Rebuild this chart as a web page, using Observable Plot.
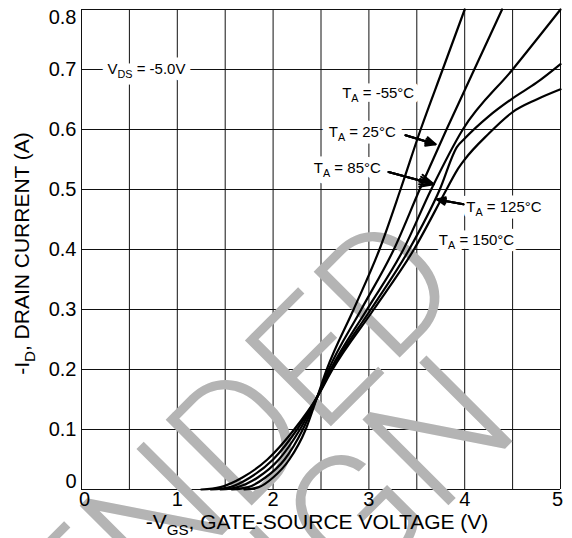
<!DOCTYPE html>
<html><head><meta charset="utf-8">
<script src="https://cdn.jsdelivr.net/npm/d3@7"></script>
<script src="https://cdn.jsdelivr.net/npm/@observablehq/plot@0.6"></script>
<style>
html,body{margin:0;padding:0;background:#fff;}
#chart svg{display:block;overflow:hidden;}
</style></head><body><div id="chart"></div>
<script>
// ---- data ----
const xGrid = [0,0.5,1,1.5,2,2.5,3,3.5,4,4.5,5];
const xTicks = [0,1,2,3,4,5];
const yTicks = [0,0.1,0.2,0.3,0.4,0.5,0.6,0.7,0.8];

const temps = ["-55","25","85","125","150"];
const vgsM55 = [1.70,1.85,2.00,2.17,2.34,2.46,2.56,2.84,3.11,3.33,3.54,3.77,4.00];
const idM55  = [0,0.004,0.02,0.05,0.10,0.154,0.20,0.30,0.40,0.50,0.60,0.70,0.80];
const vgs25  = [1.57,1.74,1.92,2.12,2.31,2.46,2.58,2.92,3.26,3.53,3.81,4.10,4.39];
const id25   = [0,0.004,0.02,0.05,0.10,0.154,0.20,0.30,0.40,0.50,0.60,0.70,0.80];
const vgs85  = [1.45,1.63,1.84,2.06,2.28,2.46,2.60,2.98,3.36,3.65,3.98,4.50,5.00];
const id85   = [0,0.004,0.02,0.05,0.10,0.154,0.20,0.30,0.40,0.50,0.60,0.70,0.80];
const vgs125 = [1.35,1.55,1.76,2.00,2.25,2.46,2.61,3.02,3.42,3.74,3.92,4.00,4.25,4.50,4.75,5.00];
const id125  = [0,0.004,0.02,0.05,0.10,0.154,0.20,0.30,0.40,0.50,0.571,0.585,0.622,0.652,0.678,0.709];
const vgs150 = [1.25,1.45,1.68,1.94,2.22,2.46,2.62,3.05,3.47,3.81,3.92,4.00,4.25,4.50,4.75,5.00];
const id150  = [0,0.004,0.02,0.05,0.10,0.154,0.20,0.30,0.40,0.50,0.532,0.55,0.593,0.629,0.65,0.667];

const labelText = ["V_{DS} = -5.0V","T_{A} = -55°C","T_{A} = 25°C","T_{A} = 85°C","T_{A} = 125°C","T_{A} = 150°C"];
const labelX = [0.271,2.721,2.581,2.425,4.016,3.730];
const labelY = [0.700,0.660,0.596,0.535,0.471,0.415];

const arrowX1 = [3.382,3.205,3.987];
const arrowY1 = [0.5905,0.5293,0.4755];
const arrowX2 = [3.695,3.677,3.713];
const arrowY2 = [0.5755,0.5088,0.4833];

const xTitle = "-V_{GS}, GATE-SOURCE VOLTAGE (V)";
const yTitle = "-I_{D}, DRAIN CURRENT (A)";

const wmText = ["NOT RECOMMENDED","FOR NEW DESIGN"];
const wmX = [4.034,4.614];
const wmY = [0.3338,0.0988];

// ---- tables ----
const series = [[vgsM55,idM55],[vgs25,id25],[vgs85,id85],[vgs125,id125],[vgs150,id150]];
const curves = series.flatMap(([v,i],k)=>v.map((x,j)=>({temp:temps[k],vgs:x,id:i[j]})));
const labels = labelText.map((t,k)=>({text:t,x:labelX[k],y:labelY[k]}));
const arrows = arrowX1.map((x,k)=>({x1:x,y1:arrowY1[k],x2:arrowX2[k],y2:arrowY2[k]}));
const wm = wmText.map((t,k)=>({text:t,x:wmX[k],y:wmY[k]}));

const FONT = "'Liberation Sans', Arial, Helvetica, sans-serif";
const midX = xTicks.filter(d=>d>0&&d<5);
const midY = yTicks.filter(d=>d>0&&d<0.8);
const arrowOpts = {x1:"x1", y1:"y1", x2:"x2", y2:"y2", stroke:"black", strokeWidth:2, headLength:11};

const chart = Plot.plot({
  width:572, height:538,
  marginLeft:81, marginRight:12, marginTop:9, marginBottom:49,
  x:{domain:[0,5], axis:null},
  y:{domain:[0,0.8], axis:null},
  style:{fontFamily:FONT, background:"white", color:"black"},
  marks:[
    Plot.ruleX(xGrid,{x:d=>d, stroke:"#111", strokeWidth:1}),
    Plot.ruleY(yTicks,{y:d=>d, stroke:"#111", strokeWidth:1}),
    Plot.text(wm,{x:"x", y:"y", text:"text", rotate:-45, textAnchor:"end", lineAnchor:"bottom",
      fontSize:171, fill:"#b4b4b4", fontFamily:"Roboto, 'Open Sans', sans-serif", fontWeight:300}),
    // x tick labels
    Plot.text(midX,{x:d=>d, y:()=>0, text:d=>String(d), dy:10, fontSize:20}),
    Plot.text([0],{x:d=>d, y:()=>0, text:d=>String(d), dy:10, dx:3, fontSize:20}),
    Plot.text([5],{x:d=>d, y:()=>0, text:d=>String(d), dy:10, dx:-3, fontSize:20}),
    // y tick labels
    Plot.text(midY,{x:()=>0, y:d=>d, text:d=>d.toFixed(1), dx:-5, textAnchor:"end", fontSize:20}),
    Plot.text([0.8],{x:()=>0, y:d=>d, text:d=>d.toFixed(1), dx:-5, dy:8, textAnchor:"end", fontSize:20}),
    Plot.text([0],{x:()=>0, y:d=>d, text:d=>String(d), dx:-5, dy:-8, textAnchor:"end", fontSize:20}),
    // axis titles
    Plot.text([xTitle],{frameAnchor:"bottom", text:d=>d, textAnchor:"middle", lineAnchor:"middle", dy:33, dx:-4, fontSize:21}),
    Plot.text([yTitle],{frameAnchor:"left", text:d=>d, textAnchor:"middle", lineAnchor:"middle", dx:-59, dy:4, rotate:-90, fontSize:21}),
    // annotation boxes (white halo) then text
    Plot.text(labels,{x:"x", y:"y", text:"text", textAnchor:"start", fontSize:15,
      fill:"white", stroke:"white", strokeWidth:13, strokeLinejoin:"round"}),
    Plot.text(labels,{x:"x", y:"y", text:"text", textAnchor:"start", fontSize:15, fill:"black"}),
    Plot.line(curves,{x:"vgs", y:"id", z:"temp", stroke:"black", strokeWidth:2.2, curve:"monotone-x"}),
    Plot.arrow(arrows,{...arrowOpts, headAngle:50}),
    Plot.arrow(arrows,{...arrowOpts, headAngle:30}),
    Plot.arrow(arrows,{...arrowOpts, headAngle:12})
  ]
});

// subscripts
chart.querySelectorAll("text").forEach(t=>{
  const s = t.textContent;
  if (!s.includes("_{")) return;
  const parts = s.split(/(_\{[^}]*\})/);
  t.textContent = "";
  let shifted = false;
  for (const p of parts) {
    if (!p) continue;
    const ts = document.createElementNS("http://www.w3.org/2000/svg","tspan");
    if (p.startsWith("_{")) {
      ts.textContent = p.slice(2,-1);
      ts.setAttribute("font-size","72%");
      ts.setAttribute("dy","0.38em");
      shifted = true;
    } else {
      ts.textContent = p;
      if (shifted) { ts.setAttribute("dy","-0.274em"); shifted = false; }
    }
    t.appendChild(ts);
  }
});

document.getElementById("chart").appendChild(chart);
</script>
</body></html>
